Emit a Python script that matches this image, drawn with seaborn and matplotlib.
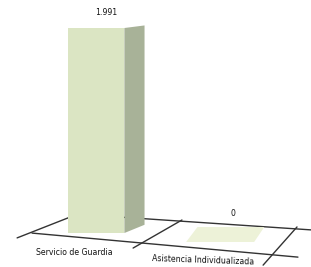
import matplotlib
matplotlib.use("Agg")
import matplotlib.pyplot as plt
from matplotlib import font_manager
from matplotlib.patches import Polygon
import seaborn as sns

# Datos del gráfico
categorias = ["Servicio de Guardia", "Asistencia Individualizada"]
valores = [1991, 0]
etiquetas_valor = ["1.991", "0"]

sns.set_style("white")

# Fuente estrecha si está disponible
try:
    font_manager.findfont("Liberation Sans Narrow", fallback_to_default=False)
    plt.rcParams["font.family"] = ["Liberation Sans Narrow", "DejaVu Sans"]
    tam = 7
except ValueError:
    plt.rcParams["font.family"] = ["DejaVu Sans"]
    tam = 5.6

fig = plt.figure(figsize=(3.11, 2.67), dpi=100)
ax = fig.add_axes([0, 0, 1, 1])

# Suelo en perspectiva (decoración, en coordenadas de ejes)
suelo = [
    [(0.055, 0.109), (0.232, 0.190)],
    [(0.103, 0.127), (0.958, 0.037)],
    [(0.232, 0.199), (1.000, 0.139)],
    [(0.428, 0.071), (0.585, 0.176)],
    [(0.846, 0.007), (0.955, 0.150)],
]
for (xa, ya), (xb, yb) in suelo:
    ax.plot([xa, xb], [ya, yb], color="#333333", lw=1.0,
            transform=ax.transAxes, zorder=1)

# Barras frontales
sns.barplot(x=categorias, y=valores, color="#dbe5c3", saturation=1,
            width=0.45, linewidth=0, ax=ax, zorder=3)

# Caras laterales / huella de las barras
dx, dy_top, dy_bot = 0.16, 25, 80
for p in list(ax.patches):
    x0 = p.get_x()
    w = p.get_width()
    h = p.get_height()
    x1 = x0 + w
    if h > 0:
        lado = Polygon([(x1, 0), (x1 + dx, dy_bot), (x1 + dx, h + dy_top), (x1, h)],
                       closed=True, facecolor="#a8b298", edgecolor="none", zorder=3)
        ax.add_patch(lado)
    else:
        p.set_visible(False)
        huella = Polygon([(x0 - 0.06, -87), (x1 + 0.03, -87),
                          (x1 + 0.11, 58), (x0 + 0.03, 58)],
                         closed=True, facecolor="#edf2d8", edgecolor="none", zorder=2)
        ax.add_patch(huella)

# Etiquetas de valor
for i, (v, txt) in enumerate(zip(valores, etiquetas_valor)):
    base = v + dy_top if v > 0 else 58
    ax.text(i + 0.085, base + 130, txt, ha="center", va="center",
            fontsize=tam, color="#111111")

# Etiquetas de categoría
ax.text(0 - 0.175, -194, categorias[0], ha="center", va="center",
        fontsize=tam, color="#111111")
ax.text(1 - 0.15, -262, categorias[1], ha="center", va="center",
        fontsize=tam, color="#111111", rotation=-2)

ax.set_xlim(-0.762, 1.706)
ax.set_ylim(-330, 2263)
ax.axis("off")

fig.savefig("out.png", dpi=100)
